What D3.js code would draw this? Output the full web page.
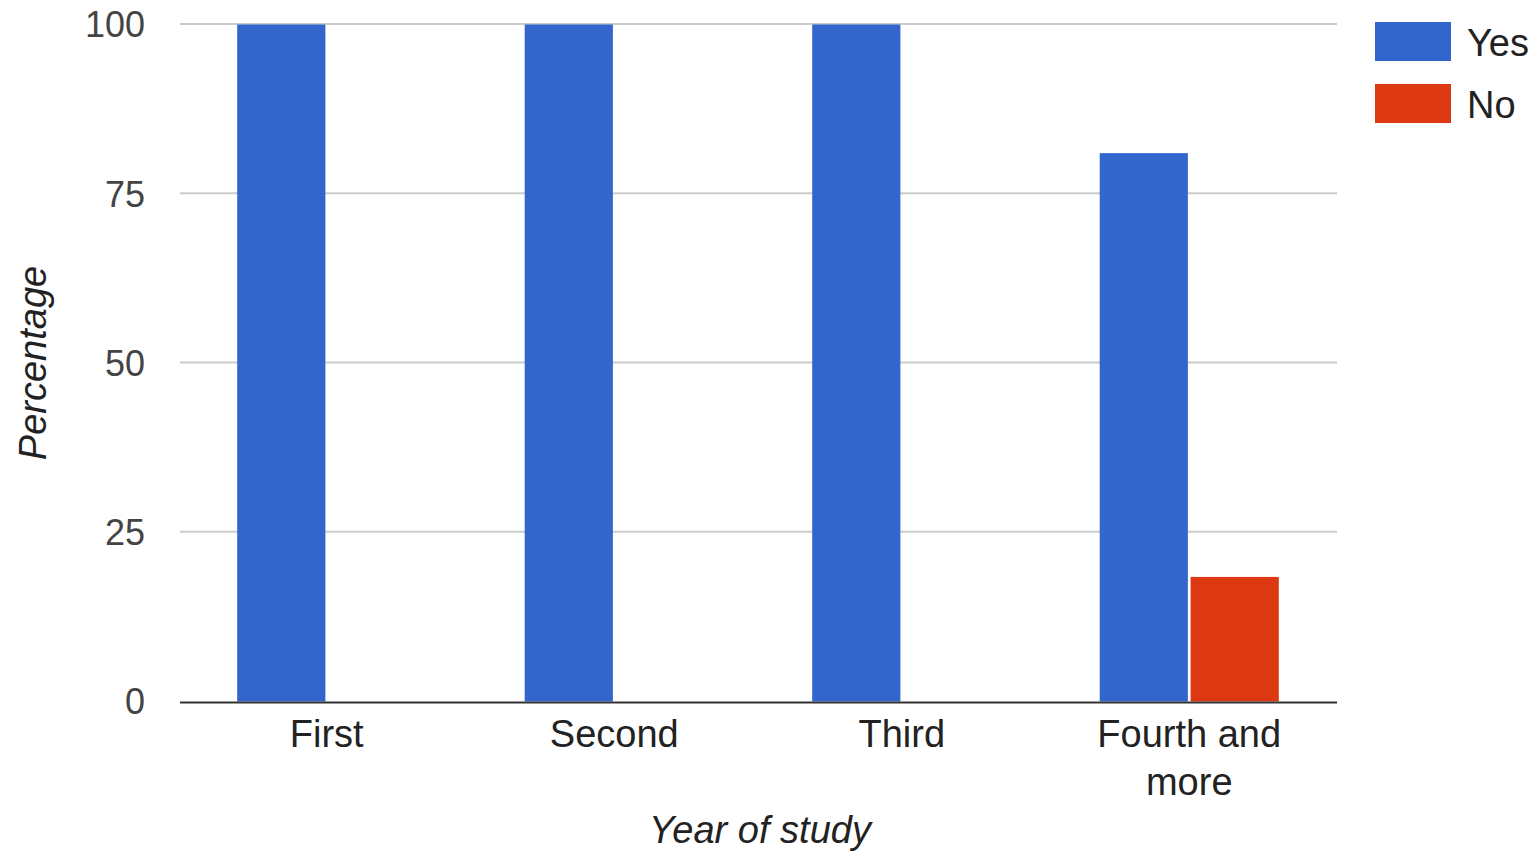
<!DOCTYPE html>
<html>
<head>
<meta charset="utf-8">
<script src="https://cdn.jsdelivr.net/npm/d3@7"></script>
<style>
  html, body { margin: 0; padding: 0; background: #fff; }
  svg { display: block; font-family: Arial, "Liberation Sans", sans-serif; }
</style>
</head>
<body>
<svg id="chart" width="1540" height="851"></svg>
<script>
// Survey answers by year of study (percent of respondents)
const categories = ["First", "Second", "Third", "Fourth and more"];
const seriesNames = ["Yes", "No"];
const yesValues = [100, 100, 100, 81];
const noValues = [0, 0, 0, 18.4];
const yTicks = [0, 25, 50, 75, 100];
const colors = ["#3366cc", "#dc3912"];

const svg = d3.select("#chart");
const grid = { left: 180, right: 1337 };
const plot = { left: 183, right: 1333, top: 24.5, bottom: 701.5 };

const rows = categories.map((c, i) => ({ cat: c, values: [yesValues[i], noValues[i]] }));

const x0 = d3.scaleBand().domain(categories).range([plot.left, plot.right]).padding(0);
const inner = x0.bandwidth() * 0.623;
const x1 = d3.scaleBand().domain(seriesNames).range([0, inner]).paddingInner(0.03);
const y = d3.scaleLinear().domain([0, 100]).range([plot.bottom, plot.top]);

// gridlines
svg.append("g").selectAll("line").data(yTicks.filter(t => t > 0)).join("line")
  .attr("x1", grid.left).attr("x2", grid.right)
  .attr("y1", d => y(d) - 0.5).attr("y2", d => y(d) - 0.5)
  .attr("stroke", "#cccccc").attr("stroke-width", 2);

// y tick labels
svg.append("g").selectAll("text").data(yTicks).join("text")
  .attr("x", 145).attr("y", d => y(d))
  .attr("dy", "0.36em")
  .attr("text-anchor", "end")
  .attr("font-size", 36).attr("fill", "#444")
  .text(d => d);

// bars
const groups = svg.append("g").selectAll("g").data(rows).join("g")
  .attr("transform", d => `translate(${x0(d.cat) + (x0.bandwidth() - inner) / 2},0)`);
groups.selectAll("rect")
  .data(d => d.values.map((v, i) => ({ key: seriesNames[i], v, i })).filter(e => e.v > 0))
  .join("rect")
  .attr("x", d => x1(d.key))
  .attr("width", x1.bandwidth())
  .attr("y", d => y(d.v))
  .attr("height", d => y(0) - y(d.v))
  .attr("fill", d => colors[d.i]);

// baseline
svg.append("line")
  .attr("x1", grid.left).attr("x2", grid.right)
  .attr("y1", y(0) + 1).attr("y2", y(0) + 1)
  .attr("stroke", "#333").attr("stroke-width", 2);

// x category labels (wrapped)
const catLines = { "Fourth and more": ["Fourth and", "more"] };
svg.append("g").selectAll("text").data(categories).join("text")
  .attr("x", d => x0(d) + x0.bandwidth() / 2)
  .attr("y", 747)
  .attr("text-anchor", "middle")
  .attr("font-size", 38).attr("fill", "#222")
  .each(function (d) {
    const lines = catLines[d] || [d];
    d3.select(this).selectAll("tspan").data(lines).join("tspan")
      .attr("x", x0(d) + x0.bandwidth() / 2)
      .attr("dy", (l, i) => i === 0 ? 0 : 48)
      .text(l => l);
  });

// axis titles
svg.append("text")
  .attr("x", 760).attr("y", 843)
  .attr("text-anchor", "middle")
  .attr("font-size", 38).attr("font-style", "italic").attr("fill", "#222")
  .text("Year of study");

svg.append("text")
  .attr("transform", `translate(46,${(plot.top + plot.bottom) / 2}) rotate(-90)`)
  .attr("text-anchor", "middle")
  .attr("font-size", 38).attr("font-style", "italic").attr("fill", "#222")
  .text("Percentage");

// legend
const legend = svg.append("g").selectAll("g").data(seriesNames).join("g")
  .attr("transform", (d, i) => `translate(1375,${22 + i * 62})`);
legend.append("rect")
  .attr("width", 76).attr("height", 39)
  .attr("fill", (d, i) => colors[i]);
legend.append("text")
  .attr("x", 92).attr("y", 20).attr("dy", "0.36em")
  .attr("font-size", 38).attr("fill", "#222")
  .text(d => d);
</script>
</body>
</html>
